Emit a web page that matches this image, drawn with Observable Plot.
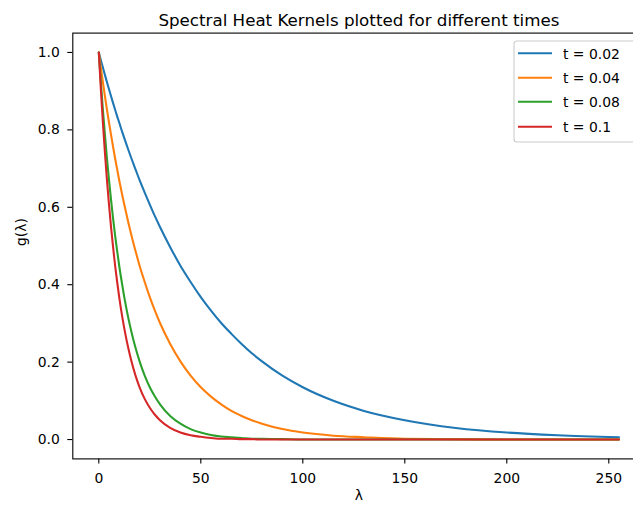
<!DOCTYPE html>
<html><head><meta charset="utf-8">
<script src="https://cdn.jsdelivr.net/npm/d3@7"></script>
<script src="https://cdn.jsdelivr.net/npm/@observablehq/plot@0.6"></script>
<style>
html,body{margin:0;padding:0;background:#fff;overflow:hidden;}
#wrap{position:relative;width:633px;height:509px;overflow:hidden;}
#wrap svg{max-width:none !important;width:645px;height:509px;display:block;}
#legend{position:absolute;left:0;top:0;pointer-events:none;width:633px !important;}
</style>
</head><body>
<div id="wrap"></div>
<script>
// λ sample positions
const lambda = [0,1,2,3,4,5,6,7,8,9,10,11.5,13,14.5,16,18,20,22.5,25,27.5,30,35,40,45,50,55,60,65,70,75,80,90,100,115,130,150,175,200,225,255];
// g(λ) values per series
const g_t002 = [1,0.980,0.961,0.942,0.923,0.905,0.887,0.869,0.852,0.835,0.819,0.794,0.771,0.748,0.726,0.698,0.670,0.638,0.607,0.577,0.549,0.497,0.449,0.407,0.368,0.333,0.301,0.273,0.247,0.223,0.202,0.165,0.135,0.100,0.074,0.050,0.030,0.018,0.011,0.006];
const g_t004 = [1,0.961,0.923,0.887,0.852,0.819,0.787,0.756,0.726,0.698,0.670,0.631,0.595,0.560,0.527,0.487,0.449,0.407,0.368,0.333,0.301,0.247,0.202,0.165,0.135,0.111,0.091,0.074,0.061,0.050,0.041,0.027,0.018,0.010,0.006,0.002,0.001,0,0,0];
const g_t008 = [1,0.923,0.852,0.787,0.726,0.670,0.619,0.571,0.527,0.487,0.449,0.399,0.353,0.313,0.278,0.237,0.202,0.165,0.135,0.111,0.091,0.061,0.041,0.027,0.018,0.012,0.008,0.006,0.004,0.002,0.002,0.001,0,0,0,0,0,0,0,0];
const g_t01  = [1,0.905,0.819,0.741,0.670,0.607,0.549,0.497,0.449,0.407,0.368,0.317,0.273,0.235,0.202,0.165,0.135,0.105,0.082,0.064,0.050,0.030,0.018,0.011,0.007,0.004,0.002,0.002,0.001,0.001,0,0,0,0,0,0,0,0,0,0];
const seriesNames = ["t = 0.02","t = 0.04","t = 0.08","t = 0.1"];
const seriesValues = [g_t002,g_t004,g_t008,g_t01];
const colors = ["#1f77b4","#ff7f0e","#2ca02c","#d62728"];
const xTicks = [0,50,100,150,200,250];
const yTicks = [0,0.2,0.4,0.6,0.8,1.0];
const title = "Spectral Heat Kernels plotted for different times";
const xLabel = "λ";
const yLabel = "g(λ)";

const tables = seriesValues.map((vals, i) => lambda.map((l, j) => ({lambda: l, g: vals[j], s: seriesNames[i]})));

const W = 645, H = 509;
const chart = Plot.plot({
  width: W, height: H,
  marginLeft: 72.3, marginRight: 0.5, marginTop: 32.6, marginBottom: 50.6,
  style: {fontFamily: "'DejaVu Sans', sans-serif", fontSize: "13.9px", color: "black", background: "white", maxWidth: "none"},
  x: {domain: [-12.75, 267.75]},
  y: {domain: [-0.05, 1.05]},
  marks: [
    ...tables.map((t, i) => Plot.line(t, {x: "lambda", y: "g", stroke: colors[i], strokeWidth: 2.08, curve: "monotone-x"})),
    Plot.frame({stroke: "black", strokeWidth: 1.1}),
    Plot.axisX({ticks: xTicks, tickSize: 5, tickPadding: 9.5, fontSize: 13.9, label: null, strokeWidth: 1.1, tickFormat: d3.format("d")}),
    Plot.axisY({ticks: yTicks, tickSize: 5, tickPadding: 8, fontSize: 13.9, label: null, strokeWidth: 1.1, tickFormat: d3.format(".1f")}),
    Plot.text([title], {frameAnchor: "top", dy: -18.9, fontSize: 16.7, fill: "black"}),
    Plot.text([xLabel], {frameAnchor: "bottom", dy: 41, fontSize: 13.9, fill: "black"}),
    Plot.text([yLabel], {frameAnchor: "left", dx: -51, rotate: -90, fontSize: 13.9, fill: "black"})
  ]
});
const wrap = document.getElementById("wrap");
wrap.appendChild(chart);

// legend overlay
const lg = d3.select(wrap).append("svg").attr("id","legend").attr("width",633).attr("height",509);
lg.append("rect").attr("x",514).attr("y",41).attr("width",124).attr("height",101)
  .attr("rx",3).attr("fill","rgba(255,255,255,0.8)").attr("stroke","#cccccc").attr("stroke-width",1.1);
const rowY = [53.3,77.7,101.7,126.7];
seriesNames.forEach((n,i) => {
  lg.append("line").attr("x1",518).attr("x2",552).attr("y1",rowY[i]).attr("y2",rowY[i])
    .attr("stroke",colors[i]).attr("stroke-width",2.08);
  lg.append("text").attr("x",563).attr("y",rowY[i]+5.5).text(n)
    .attr("font-family","'DejaVu Sans', sans-serif").attr("font-size",13.9).attr("fill","black");
});
</script>
</body></html>
